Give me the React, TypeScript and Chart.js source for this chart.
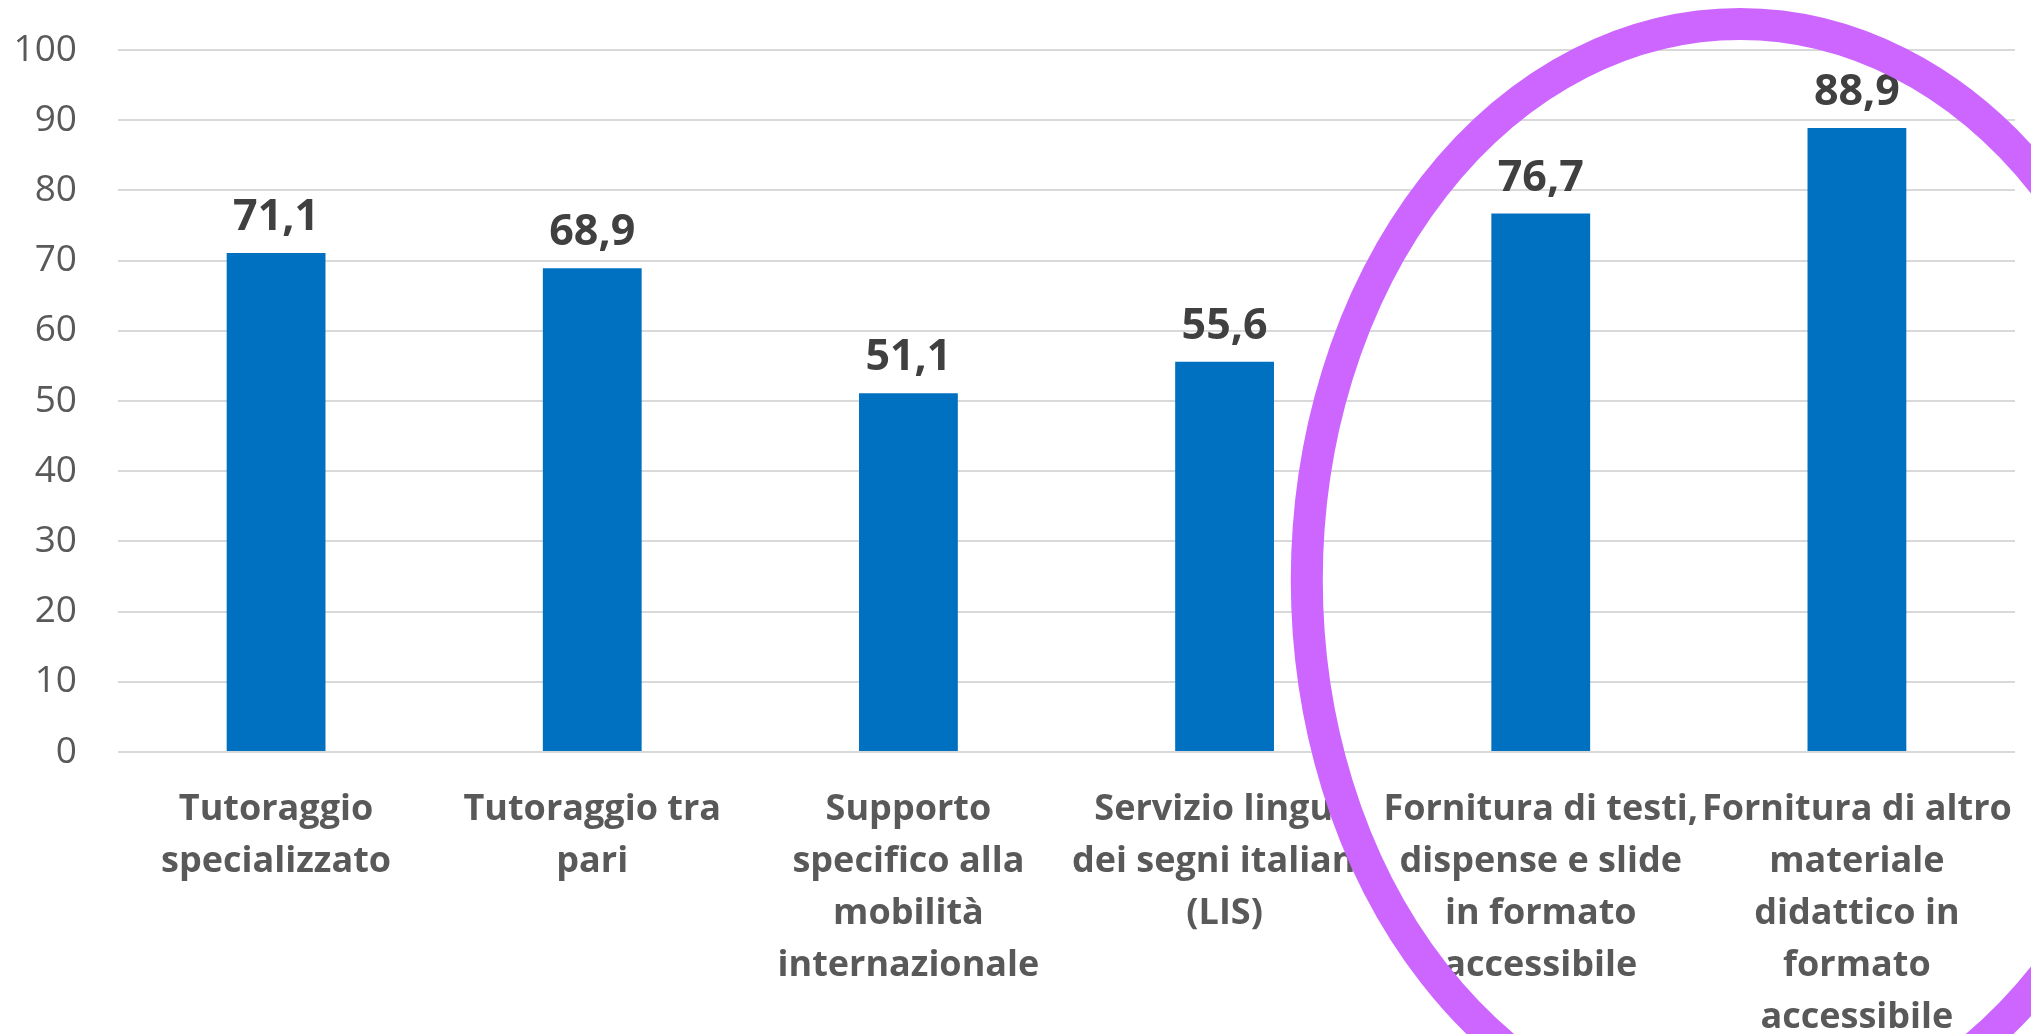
import React, { useEffect, useRef } from "react";
import { Chart, registerables } from "chart.js";

Chart.register(...registerables);

const categories: string[][] = [
  ["Tutoraggio", "specializzato"],
  ["Tutoraggio tra", "pari"],
  ["Supporto", "specifico alla", "mobilità", "internazionale"],
  ["Servizio lingua", "dei segni italiana", "(LIS)"],
  ["Fornitura di testi,", "dispense e slide", "in formato", "accessibile"],
  ["Fornitura di altro", "materiale", "didattico in", "formato", "accessibile"],
];
const values: number[] = [71.1, 68.9, 51.1, 55.6, 76.7, 88.9];
const yMin = 0;
const yMax = 100;
const yStep = 10;

const FONT = "'Open Sans', 'Liberation Sans', sans-serif";

const valueLabelPlugin = {
  id: "valueLabels",
  afterDatasetsDraw(chart: any) {
    const ctx = chart.ctx;
    const meta = chart.getDatasetMeta(0);
    ctx.save();
    ctx.font = `bold 43px ${FONT}`;
    ctx.fillStyle = "#404040";
    ctx.textAlign = "center";
    ctx.textBaseline = "alphabetic";
    meta.data.forEach((bar: any, i: number) => {
      const txt = values[i].toFixed(1).replace(".", ",");
      ctx.fillText(txt, bar.x, bar.y - 23);
    });
    ctx.restore();
  },
};

const highlightPlugin = {
  id: "highlightEllipse",
  afterDraw(chart: any) {
    const x = chart.scales.x;
    const y = chart.scales.y;
    const ci = 4.63;
    const cv = 24.5;
    const cx = x.getPixelForValue(ci);
    const rx = x.getPixelForValue(ci + 1.37) - cx;
    const cy = y.getPixelForValue(cv);
    const ry = cy - y.getPixelForValue(cv + 79.2);
    const ctx = chart.ctx;
    ctx.save();
    ctx.beginPath();
    ctx.ellipse(cx, cy, rx, ry, 0, 0, Math.PI * 2);
    ctx.lineWidth = 32;
    ctx.strokeStyle = "#CC66FF";
    ctx.stroke();
    ctx.restore();
  },
};

export default function App() {
  const ref = useRef<HTMLCanvasElement | null>(null);

  useEffect(() => {
    if (!ref.current) return;
    const chart = new Chart(ref.current, {
      type: "bar",
      data: {
        labels: categories,
        datasets: [
          {
            data: values,
            backgroundColor: "#0070C0",
            borderWidth: 0,
            barPercentage: 1,
            categoryPercentage: 0.3125,
          },
        ],
      },
      options: {
        animation: false,
        responsive: false,
        devicePixelRatio: 1,
        layout: { padding: { top: 50, right: 16, left: 0, bottom: 0 } },
        plugins: {
          legend: { display: false },
          tooltip: { enabled: false },
        },
        scales: {
          x: {
            grid: { display: false, drawTicks: false, tickLength: 0 },
            border: { display: false },
            afterFit: (s: any) => {
              s.height = 282;
              s.paddingLeft = 0;
              s.paddingRight = 0;
            },
            ticks: {
              autoSkip: false,
              maxRotation: 0,
              minRotation: 0,
              padding: 32,
              color: "#595959",
              font: { family: FONT, size: 36, weight: "bold", lineHeight: 1.44 },
            },
          },
          y: {
            min: yMin,
            max: yMax,
            border: { display: false },
            grid: { color: "#D9D9D9", lineWidth: 2, drawTicks: false, tickLength: 0 },
            afterFit: (s: any) => {
              s.width = 118;
              s.paddingTop = 0;
              s.paddingBottom = 0;
            },
            ticks: {
              stepSize: yStep,
              padding: 41,
              color: "#595959",
              font: { family: FONT, size: 37 },
            },
          },
        },
      },
      plugins: [valueLabelPlugin, highlightPlugin],
    });
    return () => chart.destroy();
  }, []);

  return (
    <div
      style={{
        position: "fixed",
        left: 0,
        top: 0,
        width: 2031,
        height: 1034,
        background: "#ffffff",
      }}
    >
      <canvas ref={ref} width={2031} height={1034} style={{ display: "block" }} />
    </div>
  );
}
